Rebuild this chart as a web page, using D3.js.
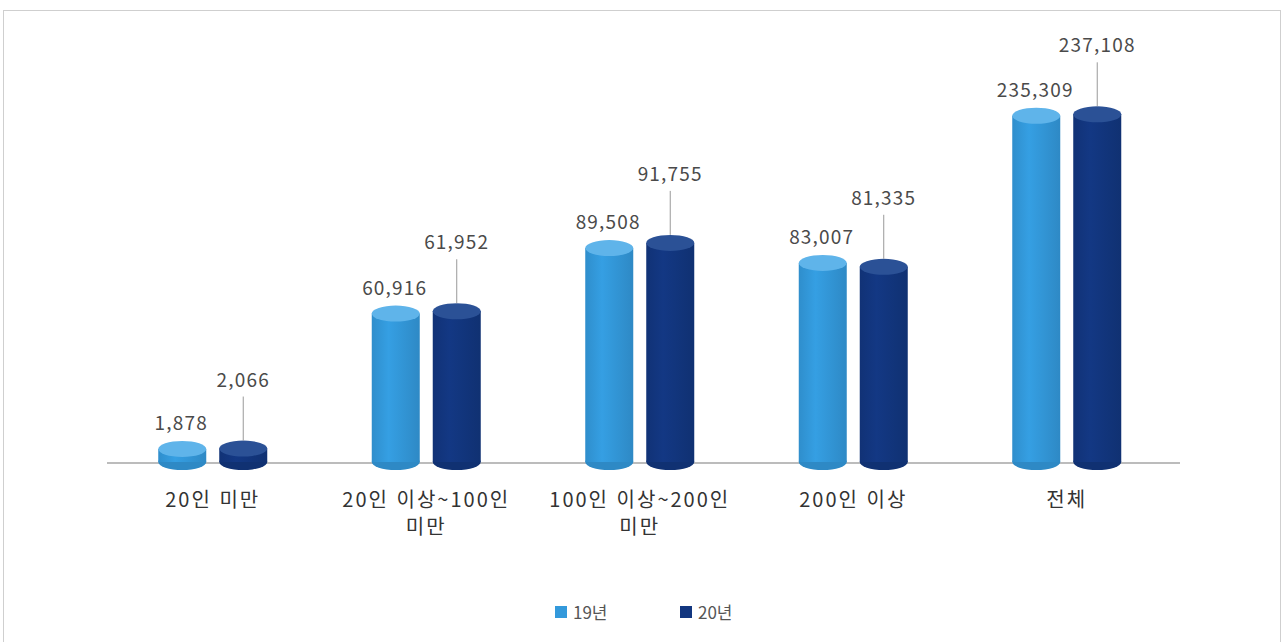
<!DOCTYPE html>
<html lang="ko">
<head>
<meta charset="utf-8">
<script src="https://cdn.jsdelivr.net/npm/d3@7"></script>
<style>
  html, body { margin: 0; padding: 0; background: #fff; }
  svg { display: block; }
  text { font-family: "Noto Sans CJK KR", "Noto Sans", sans-serif; }
</style>
</head>
<body>
<svg id="chart" width="1284" height="642"></svg>
<script>
// Workers by company size, 2019 vs 2020
const categories = [["20인 미만"], ["20인 이상~100인", "미만"], ["100인 이상~200인", "미만"], ["200인 이상"], ["전체"]];
const seriesNames = ["19년", "20년"];
const values19 = [1878, 60916, 89508, 83007, 235309];
const values20 = [2066, 61952, 91755, 81335, 237108];

const W = 1284, H = 642;
const svg = d3.select("#chart");

const colors = { "19년": "#3399db", "20년": "#12367f" };
const capColors = { "19년": "#5fb4ea", "20년": "#2b5196" };

// frame
svg.append("rect")
  .attr("x", 3.5).attr("y", 10.5).attr("width", 1277).attr("height", 640)
  .attr("fill", "none").attr("stroke", "#cfcfcf").attr("stroke-width", 1);

const baseY = 462;
const keys = categories.map(c => c.join(" "));

const x0 = d3.scaleBand().domain(keys).range([106, 1173.5]);
const x1 = d3.scaleBand().domain(seriesNames)
  .range([x0.bandwidth() / 2 - 54.5, x0.bandwidth() / 2 + 54.5])
  .paddingInner(0.213);

// value axis compressed above 100,000 so the total fits with the parts
const y = d3.scaleLinear().domain([-3800, 100000, 240000]).range([baseY, 224, 112]);

const defs = svg.append("defs");
seriesNames.forEach((s, i) => {
  const g = defs.append("linearGradient").attr("id", "grad" + i).attr("x1", "0").attr("x2", "1");
  const base = d3.color(colors[s]);
  g.append("stop").attr("offset", "0%").attr("stop-color", base.darker(0.2));
  g.append("stop").attr("offset", "35%").attr("stop-color", base.brighter(0.1));
  g.append("stop").attr("offset", "100%").attr("stop-color", base.darker(0.3));
});

const data = keys.map((k, i) => ({ key: k, vals: [values19[i], values20[i]] }));

const rx = x1.bandwidth() / 2, ry = 8;

// axis baseline
svg.append("line")
  .attr("x1", 107).attr("x2", 1180).attr("y1", baseY + 1).attr("y2", baseY + 1)
  .attr("stroke", "#a6a6a6").attr("stroke-width", 1.5);

const groups = svg.selectAll("g.cat").data(data).join("g")
  .attr("class", "cat")
  .attr("transform", d => `translate(${x0(d.key)},0)`);

groups.each(function (d) {
  const g = d3.select(this);
  d.vals.forEach((v, i) => {
    const s = seriesNames[i];
    const cx = x1(s) + rx;
    const top = y(v);
    // bottom ellipse
    g.append("ellipse").attr("cx", cx).attr("cy", baseY).attr("rx", rx).attr("ry", ry)
      .attr("fill", d3.color(colors[s]).darker(0.3));
    // body
    g.append("rect").attr("x", cx - rx).attr("y", top).attr("width", rx * 2).attr("height", baseY - top)
      .attr("fill", `url(#grad${i})`);
    // top cap
    g.append("ellipse").attr("cx", cx).attr("cy", top).attr("rx", rx).attr("ry", ry)
      .attr("fill", capColors[s]);

    const label = d3.format(",")(v);
    if (i === 0) {
      g.append("text").attr("x", cx - 1).attr("y", top - 19)
        .attr("text-anchor", "middle").attr("font-size", 19).attr("letter-spacing", 1.2)
        .attr("fill", "#4a4a4a")
        .text(label);
    } else {
      const ly = top - ry - 54;
      g.append("line").attr("x1", cx).attr("x2", cx).attr("y1", ly + 10).attr("y2", top - ry)
        .attr("stroke", "#9a9a9a").attr("stroke-width", 1);
      g.append("text").attr("x", cx).attr("y", ly)
        .attr("text-anchor", "middle").attr("font-size", 19).attr("letter-spacing", 1.2)
        .attr("fill", "#4a4a4a")
        .text(label);
    }
  });
});

// category labels
const catG = svg.selectAll("text.cat").data(categories).join("text")
  .attr("class", "cat")
  .attr("x", (d, i) => x0(keys[i]) + x0.bandwidth() / 2)
  .attr("y", 507)
  .attr("text-anchor", "middle").attr("font-size", 20).attr("letter-spacing", 2)
  .attr("fill", "#333");
catG.selectAll("tspan").data(d => d).join("tspan")
  .attr("x", function () { return d3.select(this.parentNode).attr("x"); })
  .attr("dy", (d, i) => i === 0 ? 0 : 27)
  .text(d => d);

// legend
const legend = svg.append("g");
const legendX = d3.scalePoint().domain(seriesNames).range([555, 680]);
seriesNames.forEach(s => {
  legend.append("rect").attr("x", legendX(s)).attr("y", 606).attr("width", 12).attr("height", 12)
    .attr("fill", colors[s]);
  legend.append("text").attr("x", legendX(s) + 18).attr("y", 619)
    .attr("font-size", 17).attr("fill", "#555").text(s);
});
</script>
</body>
</html>
